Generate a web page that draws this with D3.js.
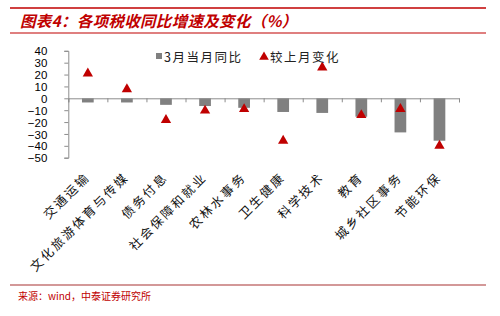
<!DOCTYPE html>
<html>
<head>
<meta charset="utf-8">
<script src="https://cdn.jsdelivr.net/npm/d3@7"></script>
<style>
  body { margin: 0; background: #fff; }
  svg { display: block; }
</style>
</head>
<body>
<div id="chart"></div>
<script>
// data
var categories = ["交通运输", "文化旅游体育与传媒", "债务付息", "社会保障和就业", "农林水事务",
                  "卫生健康", "科学技术", "教育", "城乡社区事务", "节能环保"];
var yoyMarch = [-3.5, -3.5, -5.5, -6.5, -8, -11.5, -12.3, -15.5, -28.7, -35.7];
var changeVsLastMonth = [21.5, 8.3, -17.6, -9.7, -8.4, -35, 26.6, -13.5, -8.3, -39.3];
var yTicks = [40, 30, 20, 10, 0, -10, -20, -30, -40, -50];

var W = 500, H = 316;
var red = "#c00000";
var svg = d3.select("#chart").append("svg")
  .attr("width", W).attr("height", H);

svg.append("rect").attr("width", W).attr("height", H).attr("fill", "white");

// header
svg.append("line").attr("x1", 10).attr("x2", 486).attr("y1", 8).attr("y2", 8)
  .attr("stroke", red).attr("stroke-width", 1.5);
svg.append("line").attr("x1", 10).attr("x2", 486).attr("y1", 33).attr("y2", 33)
  .attr("stroke", red).attr("stroke-width", 1.2);
svg.append("text")
  .attr("x", 20).attr("y", 27)
  .attr("font-family", "'Noto Sans CJK SC', sans-serif")
  .attr("font-size", 15.5)
  .attr("font-weight", "bold")
  .attr("font-style", "italic")
  .attr("letter-spacing", 0.3)
  .attr("fill", red)
  .text("图表4：各项税收同比增速及变化（%）");

// scales
var y = d3.scaleLinear().domain([-50, 40]).range([157.7, 50.8]);
var x = d3.scaleBand().domain(categories).range([68.3, 459]).padding(0);
var xi = d3.scaleLinear().domain([0, categories.length]).range([68.3, 459]);

// y axis
var yAxis = svg.append("g")
  .attr("transform", "translate(68.3,0)")
  .call(d3.axisLeft(y).tickValues(yTicks).tickSize(4).tickPadding(17).tickFormat(d3.format("d")));
yAxis.select(".domain").attr("stroke", "#8c8c8c");
yAxis.selectAll(".tick line").attr("stroke", "#8c8c8c");
yAxis.selectAll(".tick text")
  .attr("font-family", "'Liberation Sans', Arial, sans-serif")
  .attr("font-size", 11.5)
  .attr("dy", "0.36em")
  .attr("fill", "#000");

// bars
var bw = x.bandwidth() * 0.3;
svg.selectAll(".bar").data(yoyMarch).enter().append("rect")
  .attr("class", "bar")
  .attr("x", function(d, i){ return x(categories[i]) + x.bandwidth()/2 - bw/2; })
  .attr("y", function(d){ return y(Math.max(0, d)); })
  .attr("width", bw)
  .attr("height", function(d){ return Math.abs(y(d) - y(0)); })
  .attr("fill", "#808080");

// x axis at zero
var xAxis = svg.append("g")
  .attr("transform", "translate(0," + y(0) + ")")
  .call(d3.axisBottom(xi).tickValues(d3.range(categories.length + 1)).tickSize(4).tickFormat(""));
xAxis.select(".domain").attr("stroke", "#8c8c8c");
xAxis.selectAll(".tick line").attr("stroke", "#8c8c8c");

// triangles
var tri = d3.symbol().type(d3.symbolTriangle).size(46);
svg.selectAll(".tri").data(changeVsLastMonth).enter().append("path")
  .attr("class", "tri")
  .attr("d", tri)
  .attr("transform", function(d, i){
    return "translate(" + (x(categories[i]) + x.bandwidth()/2) + "," + (y(d) + 0.8) + ")";
  })
  .attr("fill", red);

// category labels
svg.selectAll(".cat").data(categories).enter().append("text")
  .attr("class", "cat")
  .attr("transform", function(d){
    return "translate(" + (x(d) + x.bandwidth()/2 + 2.8) + ",178) rotate(-45)";
  })
  .attr("text-anchor", "end")
  .attr("font-family", "'Noto Sans CJK SC', sans-serif")
  .attr("font-size", 12.5)
  .attr("letter-spacing", 2.3)
  .attr("fill", "#111")
  .text(function(d){ return d; });

// legend
var lg = svg.append("g")
  .attr("font-family", "'Noto Sans CJK SC', sans-serif")
  .attr("font-size", 12.5)
  .attr("fill", "#222");
lg.append("rect").attr("x", 156).attr("y", 53).attr("width", 6).attr("height", 6).attr("fill", "#808080");
lg.append("text").attr("x", 164).attr("y", 61.5).attr("letter-spacing", 1.5).text("3月当月同比");
lg.append("path").attr("d", d3.symbol().type(d3.symbolTriangle).size(40))
  .attr("transform", "translate(264,57)").attr("fill", red);
lg.append("text").attr("x", 270).attr("y", 61.5).attr("letter-spacing", 1.5).text("较上月变化");

// footer
svg.append("line").attr("x1", 10).attr("x2", 486).attr("y1", 285).attr("y2", 285)
  .attr("stroke", "#a83232").attr("stroke-width", 1.2);
svg.append("text")
  .attr("x", 18).attr("y", 300)
  .attr("font-family", "'Noto Sans CJK SC', sans-serif")
  .attr("font-size", 10)
  .attr("fill", red)
  .text("来源：wind，中泰证券研究所");
</script>
</body>
</html>
